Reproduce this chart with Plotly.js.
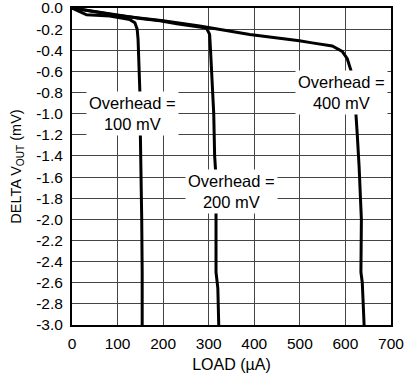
<!DOCTYPE html>
<html>
<head>
<meta charset="utf-8">
<script src="https://cdn.plot.ly/plotly-3.0.1.min.js"></script>
<style>html,body{margin:0;padding:0;background:#fff;}#chart{width:405px;height:378px;}</style>
</head>
<body>
<div id="chart"></div>
<script>
// Overhead = 100 mV
var load100 = [0, 20, 32, 83, 127, 138, 143, 145, 147, 149, 150, 152, 153, 154, 154];
var dv100   = [0, -0.04, -0.065, -0.075, -0.11, -0.14, -0.2, -0.3, -0.5, -0.8, -1.2, -1.6, -2.0, -2.5, -3.0];
// Overhead = 200 mV
var load200 = [0, 60, 150, 193, 230, 295, 302, 304, 306, 309, 311, 313, 316, 316, 315, 316, 320, 322];
var dv200   = [0, -0.04, -0.1, -0.12, -0.15, -0.19, -0.25, -0.4, -0.56, -0.88, -1.0, -1.4, -1.6, -2.0, -2.4, -2.5, -2.65, -3.0];
// Overhead = 400 mV
var load400 = [0, 100, 200, 280, 390, 450, 499, 527, 571, 593, 604, 612, 618, 623, 626, 630, 635, 634, 637, 641];
var dv400   = [0, -0.07, -0.12, -0.17, -0.25, -0.28, -0.31, -0.33, -0.36, -0.41, -0.48, -0.59, -0.8, -1.0, -1.2, -1.5, -2.0, -2.5, -2.6, -3.0];

var xTickVals = [0, 100, 200, 300, 400, 500, 600, 700];
var yTickVals = [0, -0.2, -0.4, -0.6, -0.8, -1.0, -1.2, -1.4, -1.6, -1.8, -2.0, -2.2, -2.4, -2.6, -2.8, -3.0];
var yTickText = ["0.0", "-0.2", "-0.4", "-0.6", "-0.8", "-1.0", "-1.2", "-1.4", "-1.6", "-1.8", "-2.0", "-2.2", "-2.4", "-2.6", "-2.8", "-3.0"];

var labels = ["Overhead =<br>100 mV", "Overhead =<br>200 mV", "Overhead =<br>400 mV"];
var labelX = [133, 349, 591];
var labelY = [-1.0, -1.74, -0.8];

var lineStyle = {color: "#000", width: 3};
var traces = [
  {x: load100, y: dv100, mode: "lines", line: lineStyle},
  {x: load200, y: dv200, mode: "lines", line: lineStyle},
  {x: load400, y: dv400, mode: "lines", line: lineStyle}
];

var font = "Liberation Sans, Arial, sans-serif";
var annotations = labels.map(function (t, i) {
  return {x: labelX[i], y: labelY[i], xref: "x", yref: "y", text: t, showarrow: false,
    bgcolor: "#fff", borderpad: 2, font: {family: font, size: 16.5, color: "#000"}};
});

var layout = {
  width: 405, height: 378,
  margin: {l: 72, r: 14, t: 8, b: 53},
  paper_bgcolor: "#fff", plot_bgcolor: "#fff",
  showlegend: false,
  font: {family: font, size: 15.5, color: "#000"},
  xaxis: {
    range: [0, 700], tickvals: xTickVals, showgrid: true, gridcolor: "#444", gridwidth: 1,
    showline: true, linecolor: "#000", linewidth: 2, mirror: true, zeroline: false,
    ticks: "", ticklabelstandoff: 3, ticklabeloverflow: "allow",
    title: {text: "LOAD (µA)", font: {family: font, size: 16}, standoff: 8}
  },
  yaxis: {
    range: [-3.0, 0], tickvals: yTickVals, ticktext: yTickText, showgrid: true, gridcolor: "#444", gridwidth: 1,
    showline: true, linecolor: "#000", linewidth: 2, mirror: true, zeroline: false,
    ticks: "", ticklabelstandoff: 4, ticklabeloverflow: "allow",
    title: {text: "DELTA V<sub>OUT</sub> (mV)", font: {family: font, size: 14.5}, standoff: 11}
  },
  annotations: annotations
};

Plotly.newPlot("chart", traces, layout, {displayModeBar: false, staticPlot: true});
</script>
</body>
</html>
